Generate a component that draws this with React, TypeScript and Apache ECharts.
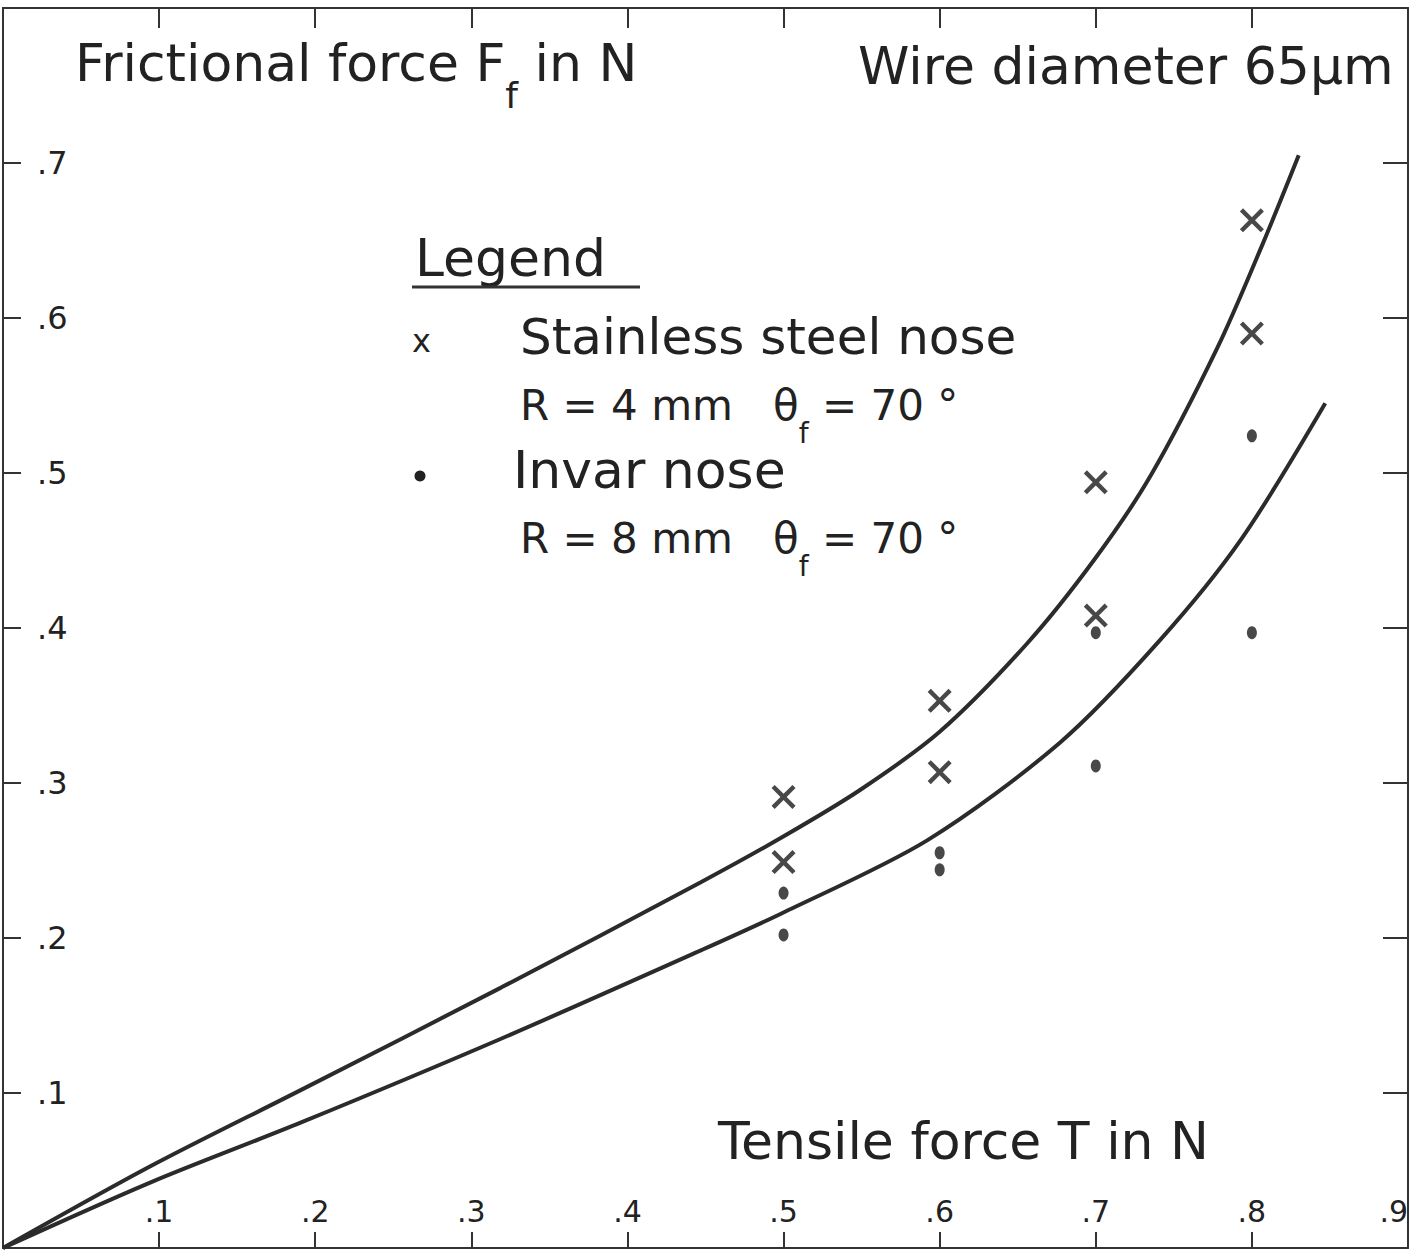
import React, { useEffect, useRef } from "react";
import * as echarts from "echarts";

// ---- data ----
const xTickLabels = [".1", ".2", ".3", ".4", ".5", ".6", ".7", ".8", ".9"];
const yTickLabels = [".1", ".2", ".3", ".4", ".5", ".6", ".7"];

// Stainless steel nose (crosses)
const steelT = [0.5, 0.5, 0.6, 0.6, 0.7, 0.7, 0.8, 0.8];
const steelF = [0.291, 0.249, 0.353, 0.307, 0.494, 0.408, 0.663, 0.59];

// Invar nose (dots)
const invarT = [0.5, 0.5, 0.6, 0.6, 0.7, 0.7, 0.8, 0.8];
const invarF = [0.229, 0.202, 0.255, 0.244, 0.397, 0.311, 0.524, 0.397];

// Fitted curves
const steelCurveT = [0, 0.095, 0.191, 0.319, 0.447, 0.499, 0.549, 0.6, 0.656, 0.699, 0.735, 0.778, 0.807, 0.83];
const steelCurveF = [0, 0.053, 0.102, 0.168, 0.236, 0.265, 0.2955, 0.333, 0.39, 0.444, 0.498, 0.581, 0.648, 0.705];
const invarCurveT = [0, 0.095, 0.191, 0.319, 0.447, 0.499, 0.592, 0.677, 0.741, 0.793, 0.847];
const invarCurveF = [0, 0.0425, 0.081, 0.135, 0.192, 0.216, 0.263, 0.326, 0.392, 0.457, 0.545];

const INK = "#222222";
const FONT = "DejaVu Sans";

const pairs = (xs: number[], ys: number[]) => xs.map((x, i) => [x, ys[i]]);

const CROSS = "path://M0,1.3L1.3,0L5,3.7L8.7,0L10,1.3L6.3,5L10,8.7L8.7,10L5,6.3L1.3,10L0,8.7L3.7,5Z";

function txt(x: number, y: number, text: string, size: number, rich?: any) {
  return {
    type: "text",
    x,
    y,
    silent: true,
    style: {
      text,
      fontSize: size,
      fontFamily: FONT,
      fill: INK,
      align: "left",
      verticalAlign: "middle",
      textAlign: "left",
      textVerticalAlign: "middle",
      rich,
    },
  };
}

export default function App() {
  const ref = useRef<HTMLDivElement>(null);
  useEffect(() => {
    if (!ref.current) return;
    const chart = echarts.init(ref.current, undefined, { renderer: "svg" });
    const axisLine = { show: true, onZero: false, lineStyle: { color: "#333", width: 2 } };
    const labelStyle = { color: INK, fontFamily: FONT, fontSize: 30 };
    const option: any = {
      animation: false,
      backgroundColor: "#ffffff",
      grid: { left: 2, top: 8, width: 1406, height: 1240 },
      xAxis: [
        {
          type: "value",
          position: "bottom",
          min: 0,
          max: 0.9,
          interval: 0.1,
          axisLine,
          axisTick: { show: true, inside: true, length: 16, lineStyle: { color: "#333", width: 2 } },
          axisLabel: {
            ...labelStyle,
            inside: true,
            margin: 22,
            alignMaxLabel: "right",
            formatter: (v: number) => {
              const i = Math.round(v * 10) - 1;
              return i >= 0 && i < xTickLabels.length ? xTickLabels[i] : "";
            },
          },
          splitLine: { show: false },
        },
        {
          type: "value",
          position: "top",
          min: 0,
          max: 0.9,
          interval: 0.1,
          axisLine,
          axisTick: { show: true, inside: true, length: 20, lineStyle: { color: "#333", width: 2 } },
          axisLabel: { show: false },
          splitLine: { show: false },
        },
      ],
      yAxis: [
        {
          type: "value",
          position: "left",
          min: 0,
          max: 0.8,
          interval: 0.1,
          axisLine,
          axisTick: { show: true, inside: true, length: 18, lineStyle: { color: "#333", width: 2 } },
          axisLabel: {
            ...labelStyle,
            fontSize: 32,
            inside: true,
            margin: 34,
            formatter: (v: number) => {
              const i = Math.round(v * 10) - 1;
              return i >= 0 && i < yTickLabels.length ? yTickLabels[i] : "";
            },
          },
          splitLine: { show: false },
        },
        {
          type: "value",
          position: "right",
          min: 0,
          max: 0.8,
          interval: 0.1,
          axisLine,
          axisTick: { show: true, inside: true, length: 25, lineStyle: { color: "#333", width: 2 } },
          axisLabel: { show: false },
          splitLine: { show: false },
        },
      ],
      series: [
        {
          name: "Stainless steel curve",
          type: "line",
          data: pairs(steelCurveT, steelCurveF),
          smooth: 0.3,
          showSymbol: false,
          symbol: "none",
          lineStyle: { color: "#2b2b2b", width: 4 },
        },
        {
          name: "Invar curve",
          type: "line",
          data: pairs(invarCurveT, invarCurveF),
          smooth: 0.3,
          showSymbol: false,
          symbol: "none",
          lineStyle: { color: "#2b2b2b", width: 4 },
        },
        {
          name: "Stainless steel nose",
          type: "scatter",
          data: pairs(steelT, steelF),
          symbol: CROSS,
          symbolSize: 24,
          itemStyle: { color: "#1a1a1a" },
        },
        {
          name: "Invar nose",
          type: "scatter",
          data: pairs(invarT, invarF),
          symbol: "circle",
          symbolSize: [10, 13],
          itemStyle: { color: "#1a1a1a" },
        },
      ],
      graphic: [
        txt(75, 63, "Frictional force F{sub|f} in N", 52, {
          sub: { fontSize: 36, fontFamily: FONT, fill: INK, padding: [64, 0, 0, 0] },
        }),
        txt(858, 66, "Wire diameter 65µm", 52),
        txt(415, 258, "Legend", 52),
        {
          type: "line",
          silent: true,
          shape: { x1: 412, y1: 287, x2: 640, y2: 287 },
          style: { stroke: "#333", lineWidth: 3 },
        },
        txt(412, 341, "x", 32),
        txt(520, 337, "Stainless steel nose", 50),
        txt(520, 405, "R = 4 mm   θ{sub|f} = 70 °", 42, {
          sub: { fontSize: 28, fontFamily: FONT, fill: INK, padding: [56, 0, 0, 0] },
        }),
        {
          type: "circle",
          silent: true,
          shape: { cx: 420, cy: 476, r: 5.5 },
          style: { fill: INK },
        },
        txt(513, 470, "Invar nose", 52),
        txt(520, 538, "R = 8 mm   θ{sub|f} = 70 °", 42, {
          sub: { fontSize: 28, fontFamily: FONT, fill: INK, padding: [56, 0, 0, 0] },
        }),
        txt(718, 1141, "Tensile force T in N", 52),
      ],
    };
    chart.setOption(option);
    return () => chart.dispose();
  }, []);
  return (
    <div
      ref={ref}
      style={{ position: "fixed", left: 0, top: 0, width: 1425, height: 1250, background: "#fff" }}
    />
  );
}
